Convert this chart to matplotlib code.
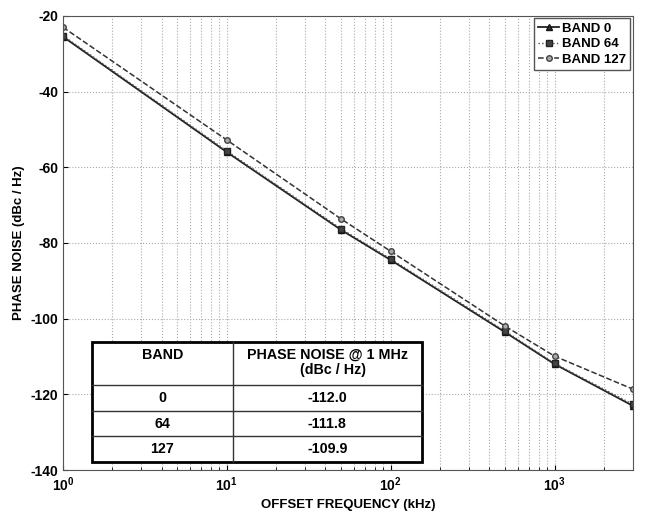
import matplotlib.pyplot as plt
from matplotlib.patches import Rectangle
import numpy as np

plt.rcParams['font.family'] = ['Liberation Sans', 'DejaVu Sans']
plt.rcParams['font.weight'] = 'bold'
plt.rcParams['axes.unicode_minus'] = False

# offset frequency (kHz) and phase noise (dBc/Hz)
freq = [1, 10, 50, 100, 500, 1000, 3000]
band0 = [-25.5, -56.0, -76.6, -84.5, -103.6, -112.0, -123.0]
band64 = [-25.2, -55.7, -76.3, -84.2, -103.3, -111.8, -122.6]
band127 = [-23.0, -52.8, -73.7, -82.2, -102.0, -109.9, -118.6]

table_bands = ['0', '64', '127']
table_pn = ['-112.0', '-111.8', '-109.9']

fig = plt.figure(figsize=(6.49, 5.11), dpi=100)
ax = fig.add_axes([0.097, 0.080, 0.878, 0.889])

ax.semilogx(freq, band0, '-', color='#222222', lw=1.3, marker='^', ms=4,
            mfc='#333333', mec='#111111', label='BAND 0')
ax.semilogx(freq, band64, ':', color='#555555', lw=1.0, marker='s', ms=4,
            mfc='#444444', mec='#222222', label='BAND 64')
ax.semilogx(freq, band127, '--', color='#333333', lw=1.1, marker='o', ms=4,
            mfc='#aaaaaa', mec='#444444', label='BAND 127')

ax.set_xlim(1, 3000)
ax.set_ylim(-140, -20)
ax.set_yticks(np.arange(-140, -19, 20))
ax.grid(True, which='major', ls=':', color='#aaaaaa', lw=0.8)
ax.grid(True, which='minor', axis='x', ls=':', color='#aaaaaa', lw=0.8)
ax.tick_params(which='both', direction='in', labelsize=10)
for s in ax.spines.values():
    s.set_color('#555555')

ax.set_xlabel('OFFSET FREQUENCY (kHz)', fontsize=9.5, fontweight='bold')
ax.set_ylabel('PHASE NOISE (dBc / Hz)', fontsize=9.5, fontweight='bold')

leg = ax.legend(loc='upper right', fontsize=9.5, handlelength=1.6,
                borderpad=0.3, labelspacing=0.25, handletextpad=0.2,
                fancybox=False, framealpha=1, borderaxespad=0.2)
leg.get_frame().set_edgecolor('#555555')
for t in leg.get_texts():
    t.set_fontweight('bold')

# inset table
x0, x1, xd = 0.051, 0.630, 0.298
y_lines = [0.282, 0.187, 0.130, 0.075, 0.018]
ax.add_patch(Rectangle((x0, y_lines[-1]), x1 - x0, y_lines[0] - y_lines[-1],
                       transform=ax.transAxes, facecolor='white',
                       edgecolor='black', lw=2.0, zorder=5))
for yy in y_lines[1:-1]:
    ax.plot([x0, x1], [yy, yy], transform=ax.transAxes, color='#333333',
            lw=1.0, zorder=6)
ax.plot([xd, xd], [y_lines[-1], y_lines[0]], transform=ax.transAxes,
        color='#333333', lw=1.0, zorder=6)

c1 = (x0 + xd) / 2
c2 = (xd + x1) / 2
fs = 10.3
ax.text(c1, 0.253, 'BAND', transform=ax.transAxes, ha='center', va='center',
        fontsize=fs, fontweight='bold', zorder=7)
ax.text(c2, 0.253, 'PHASE NOISE @ 1 MHz', transform=ax.transAxes,
        ha='center', va='center', fontsize=fs, fontweight='bold', zorder=7)
ax.text(c2 + 0.01, 0.220, '(dBc / Hz)', transform=ax.transAxes,
        ha='center', va='center', fontsize=fs, fontweight='bold', zorder=7)
for i in range(3):
    yc = (y_lines[i + 1] + y_lines[i + 2]) / 2
    ax.text(c1, yc, table_bands[i], transform=ax.transAxes, ha='center',
            va='center', fontsize=fs, fontweight='bold', zorder=7)
    ax.text(c2, yc, table_pn[i], transform=ax.transAxes, ha='center',
            va='center', fontsize=fs, fontweight='bold', zorder=7)

fig.savefig('out.png', dpi=100)
